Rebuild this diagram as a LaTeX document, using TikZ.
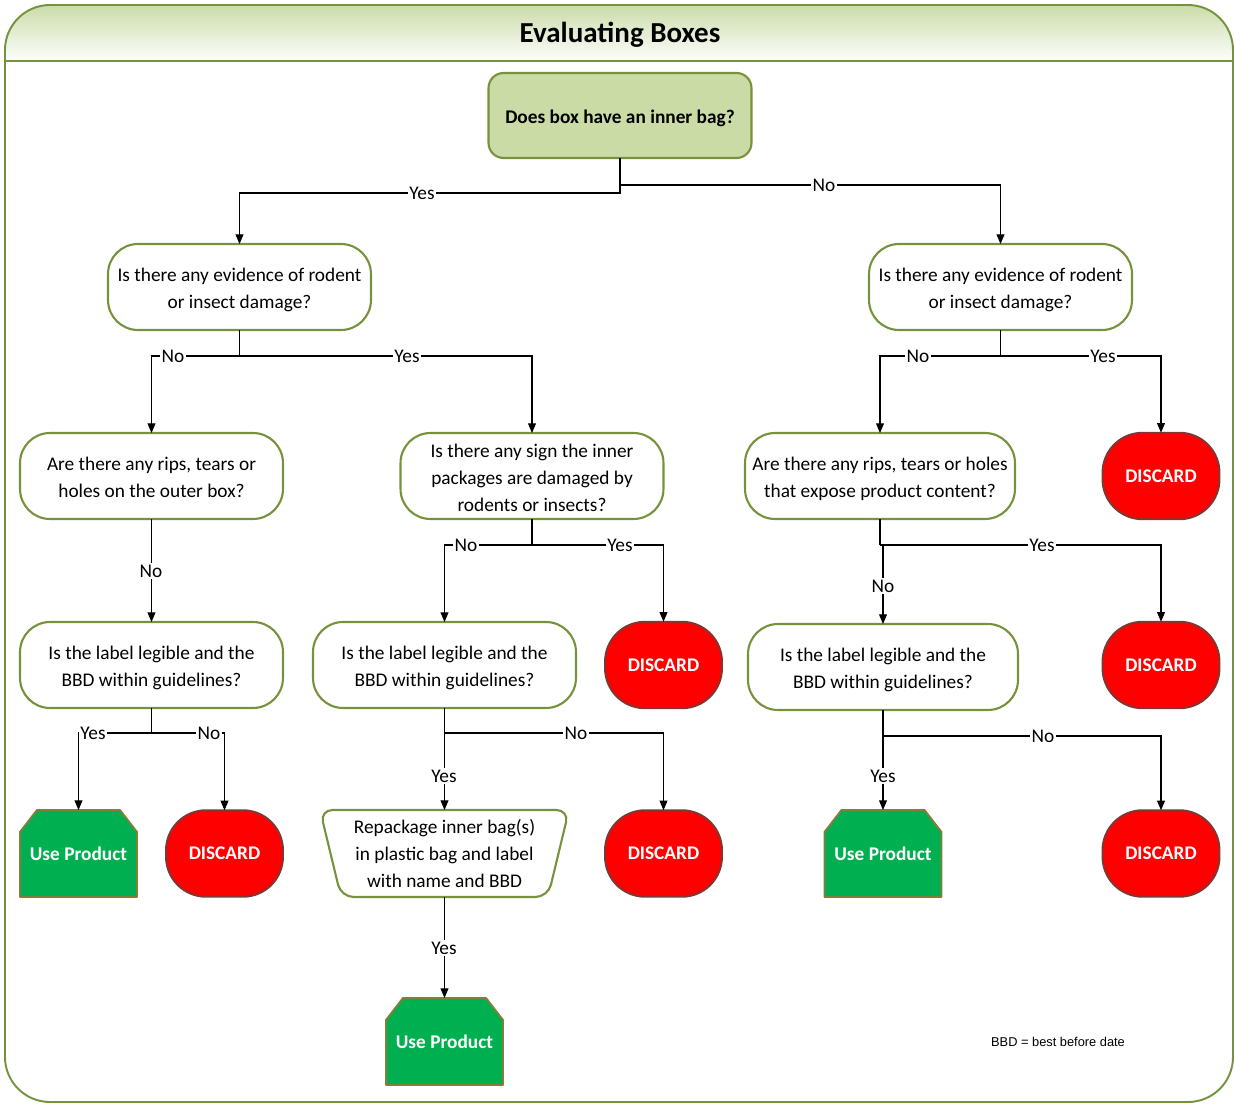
\documentclass[tikz,border=0pt]{standalone}
\usepackage{fontspec}
\setmainfont{Carlito}
\newfontfamily\arialf{Liberation Sans}
\usetikzlibrary{arrows.meta,calc}
\pgfdeclarelayer{bg}
\pgfsetlayers{bg,main}
\definecolor{olive}{RGB}{118,146,60}
\definecolor{rootfill}{RGB}{202,219,166}
\definecolor{headtop}{RGB}{203,220,170}
\definecolor{discborder}{RGB}{127,55,52}
\definecolor{upgreen}{RGB}{0,176,80}
\definecolor{upborder}{RGB}{128,128,60}
\newcommand\dn[1]{\raisebox{-1.7pt}[\height][\depth]{\begin{tabular}{@{}c@{}}#1\end{tabular}}}
\newcommand\useprodnode[2]{%
  \node[upn] (#1) at #2 {Use Product};
  \begin{pgfonlayer}{bg}
  \filldraw[fill=upgreen,draw=upborder,line width=1.1pt,line join=round]
    (#1.south west) -- ($(#1.north west)+(0,22)$) -- ($(#1.north west)+(17,0)$)
    -- ($(#1.north east)+(-17,0)$) -- ($(#1.north east)+(0,22)$) -- (#1.south east) -- cycle;
  \end{pgfonlayer}}
\tikzset{
  x={(0.02cm,0)}, y={(0,-0.02cm)},
  txt/.style={font=\fontsize{11}{15.3}\selectfont},
  qbox/.style={txt, rectangle, rounded corners=0.6cm, draw=olive, line width=1.2pt, fill=white,
    align=center, minimum width=5.26cm, minimum height=1.72cm, inner sep=0pt, outer sep=0pt},
  rootbox/.style={qbox, rounded corners=0.3cm, fill=rootfill, font=\fontsize{11}{15.3}\selectfont\bfseries, minimum height=1.7cm},
  disc/.style={rectangle, rounded corners=0.8cm, fill=red, draw=discborder, line width=1.1pt,
    text=white, font=\fontsize{11}{14}\selectfont\bfseries, minimum width=2.34cm, minimum height=1.73cm,
    inner sep=0pt, outer sep=0pt},
  upn/.style={rectangle, text=white, font=\fontsize{11}{14}\selectfont\bfseries, minimum width=2.34cm,
    minimum height=1.74cm, inner sep=0pt, outer sep=0pt},
  conn/.style={draw=black, line width=0.6pt, -{Triangle[length=5.5pt,width=4.5pt]}},
  lnk/.style={draw=black, line width=0.6pt},
  lbl/.style={txt, fill=white, inner sep=0.8pt},
}
\begin{document}
\begin{tikzpicture}
\useasboundingbox (0,0) rectangle (1234,1104);
% frame
\begin{scope}
  \clip[rounded corners=0.9cm] (5,5) rectangle (1233,1102);
  \shade[top color=headtop, bottom color=white!97!headtop] (5,5) rectangle (1233,61);
\end{scope}
\draw[olive, line width=1.1pt, rounded corners=0.9cm] (5,5) rectangle (1233,1102);
\draw[olive, line width=1.1pt] (5,61) -- (1233,61);
\node[font=\fontsize{16.5}{20}\selectfont\bfseries] (title) at (620,35) {Evaluating Boxes};

% nodes
\node[rootbox, minimum width=5.26cm] (root) at (620,115.5) {\dn{Does box have an inner bag?}};
\node[qbox] (L1) at (239.5,287) {\dn{Is there any evidence of rodent\\or insect damage?}};
\node[qbox] (R1) at (1000.5,287) {\dn{Is there any evidence of rodent\\or insect damage?}};
\node[qbox] (LL) at (151.5,476) {\dn{Are there any rips, tears or\\holes on the outer box?}};
\node[qbox] (LM) at (532,476) {\dn{Is there any sign the inner\\packages are damaged by\\rodents or insects?}};
\node[qbox, minimum width=5.4cm] (RL) at (880,476) {\dn{Are there any rips, tears or holes\\that expose product content?}};
\node[disc] (D1) at (1161,476) {DISCARD};
\node[qbox] (LL2) at (151.5,665) {\dn{Is the label legible and the\\BBD within guidelines?}};
\node[qbox] (LM2) at (444.5,665) {\dn{Is the label legible and the\\BBD within guidelines?}};
\node[disc] (D2) at (663.5,665) {DISCARD};
\node[qbox, minimum width=5.4cm] (RL2) at (883,667) {\dn{Is the label legible and the\\BBD within guidelines?}};
\node[disc] (D3) at (1161,665) {DISCARD};
\useprodnode{UP1}{(78.5,853.5)}
\node[disc] (D4) at (224.5,853.5) {DISCARD};
\node[txt, align=center, minimum width=4.98cm, minimum height=1.74cm, inner sep=0pt, outer sep=0pt] (RP) at (444.5,853.5)
  {Repackage inner bag(s)\\in plastic bag and label\\with name and BBD};
\begin{pgfonlayer}{bg}
\filldraw[fill=white, draw=olive, line width=1.2pt, rounded corners=0.25cm]
  (RP.north) -- (RP.north east) -- ($(RP.south east)+(-21,0)$) -- ($(RP.south west)+(21,0)$) -- (RP.north west) -- cycle;
\end{pgfonlayer}
\node[disc] (D5) at (663.5,853.5) {DISCARD};
\useprodnode{UP2}{(883,853.5)}
\node[disc] (D6) at (1161,853.5) {DISCARD};
\useprodnode{UP3}{(444.5,1041.5)}
\node[font=\arialf\fontsize{7.3}{9}\selectfont] (note) at (1058,1042) {BBD = best before date};

% connectors
\draw[conn] (root.south) -- ++(0,35) -| (L1.north);
\draw[conn] (root.south) -- ++(0,27) -| (R1.north);
\draw[conn] (L1.south) -- ++(0,26) -| (LL.north);
\draw[conn] (L1.south) -- ++(0,26) -| (LM.north);
\draw[conn] (R1.south) -- ++(0,26) -| (RL.north);
\draw[conn] (R1.south) -- ++(0,26) -| (D1.north);
\draw[conn] (LL.south) -- (LL2.north);
\draw[conn] (LM.south) -- ++(0,26) -| (LM2.north);
\draw[conn] (LM.south) -- ++(0,26) -| (D2.north);
\draw[lnk] (RL.south) -- ++(0,26) coordinate (rlj);
\draw[conn] (rlj) -| (D3.north);
\draw[conn] (rlj) -| (RL2.north);
\draw[conn] (LL2.south) -- ++(0,25) -| (UP1.north);
\draw[conn] (LL2.south) -- ++(0,25) -| (D4.north);
\draw[conn] (LM2.south) -- (RP.north);
\draw[conn] ($(LM2.south)+(0,25)$) -| (D5.north);
\draw[conn] (RL2.south) -- (UP2.north);
\draw[conn] ($(RL2.south)+(0,26)$) -| (D6.north);
\draw[conn] (RP.south) -- (UP3.north);

% labels
\node[lbl] (y1) at (422,193) {Yes};
\node[lbl] (n1) at (824,185) {No};
\node[lbl] (n2) at (173,356) {No};
\node[lbl] (y2) at (407,356) {Yes};
\node[lbl] (n3) at (918,356) {No};
\node[lbl] (y3) at (1103,356) {Yes};
\node[lbl] (n4) at (151,571) {No};
\node[lbl] (n5) at (466,545) {No};
\node[lbl] (y4) at (620,545) {Yes};
\node[lbl] (y5) at (1042,545) {Yes};
\node[lbl] (n6) at (883,586) {No};
\node[lbl] (y6) at (93,733) {Yes};
\node[lbl] (n7) at (209,733) {No};
\node[lbl] (y7) at (444,776) {Yes};
\node[lbl] (n8) at (576,733) {No};
\node[lbl] (y8) at (883,776) {Yes};
\node[lbl] (n9) at (1043,736) {No};
\node[lbl] (y9) at (444,948) {Yes};
\end{tikzpicture}
\end{document}
